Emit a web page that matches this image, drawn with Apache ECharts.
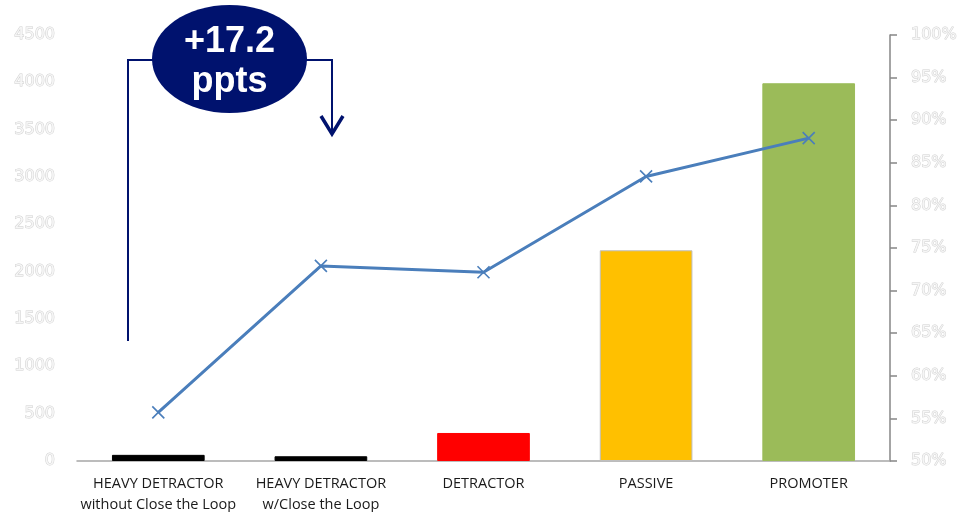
<!DOCTYPE html>
<html>
<head>
<meta charset="utf-8">
<script src="https://cdn.jsdelivr.net/npm/echarts@6/dist/echarts.min.js"></script>
<style>html,body{margin:0;padding:0;background:#fff}#c{width:959px;height:512px}</style>
</head>
<body>
<div id="c"></div>
<script>
var categories = ['HEAVY DETRACTOR\nwithout Close the Loop', 'HEAVY DETRACTOR\nw/Close the Loop', 'DETRACTOR', 'PASSIVE', 'PROMOTER'];
var counts = [65, 50, 296, 2226, 3990];
var barColors = ['#000000', '#000000', '#FF0000', '#FFC000', '#9BBB59'];
var barBorders = ['#000000', '#000000', '#FF0000', '#BFBFBF', '#9BBB59'];
var pctValues = [55.7, 72.9, 72.15, 83.4, 87.9];
var annotationText = '+17.2\nppts';

var chart = echarts.init(document.getElementById('c'));
var navy = '#00126E';
var axisLabelStyle = {
  color: '#f6f6f6', textBorderColor: '#d0d0d0', textBorderWidth: 1,
  fontFamily: 'DejaVu Sans', fontSize: 16
};
chart.setOption({
  animation: false,
  backgroundColor: '#fff',
  grid: { left: 77, right: 69, top: 35, bottom: 51, containLabel: false, outerBoundsMode: 'none' },
  xAxis: {
    type: 'category', data: categories,
    axisLine: { lineStyle: { color: '#A6A6A6', width: 1.5 } },
    axisTick: { show: false },
    axisLabel: { color: '#1a1a1a', fontFamily: 'Open Sans', fontSize: 14.5, lineHeight: 21, margin: 12, interval: 0 }
  },
  yAxis: [{
    type: 'value', min: 0, max: 4500, interval: 500,
    axisLine: { show: false }, axisTick: { show: false }, splitLine: { show: false },
    axisLabel: Object.assign({ margin: 22, formatter: function (v) { return String(v); } }, axisLabelStyle)
  }, {
    type: 'value', min: 50, max: 100, interval: 5, position: 'right',
    axisLine: { show: true, lineStyle: { color: '#868686', width: 1.5 } },
    axisTick: { show: true, length: 7, lineStyle: { color: '#868686', width: 1.5 } },
    splitLine: { show: false },
    axisLabel: Object.assign({ margin: 21, formatter: '{value}%' }, axisLabelStyle)
  }],
  series: [{
    type: 'bar', barWidth: '57%',
    data: counts.map(function (v, i) {
      return { value: v, itemStyle: { color: barColors[i], borderColor: barBorders[i], borderWidth: 1 } };
    })
  }, {
    type: 'line', yAxisIndex: 1, data: pctValues,
    lineStyle: { color: '#4A7EBB', width: 3 },
    symbol: 'path://M0 0L10 10M10 0L0 10', symbolSize: 12, showSymbol: true,
    itemStyle: { color: '#4A7EBB', borderColor: '#4A7EBB', borderWidth: 1.6 },
    z: 5
  }],
  graphic: [
    { type: 'polyline', shape: { points: [[128, 341], [128, 60], [160, 60]] }, style: { stroke: navy, lineWidth: 2, fill: null }, z: 10 },
    { type: 'polyline', shape: { points: [[300, 60], [332, 60], [332, 134]] }, style: { stroke: navy, lineWidth: 2, fill: null }, z: 10 },
    { type: 'polyline', shape: { points: [[321, 116], [332, 134], [343, 116]] }, style: { stroke: navy, lineWidth: 3.5, fill: null }, z: 10 },
    { type: 'ellipse', shape: { cx: 229.5, cy: 59, rx: 77.5, ry: 54 }, style: { fill: navy }, z: 11 },
    { type: 'text', x: 229.5, y: 62, style: { text: annotationText, fill: '#fff', font: 'bold 36px "Liberation Sans", Arial', align: 'center', verticalAlign: 'middle', lineHeight: 40 }, z: 12 }
  ]
});
</script>
</body>
</html>
